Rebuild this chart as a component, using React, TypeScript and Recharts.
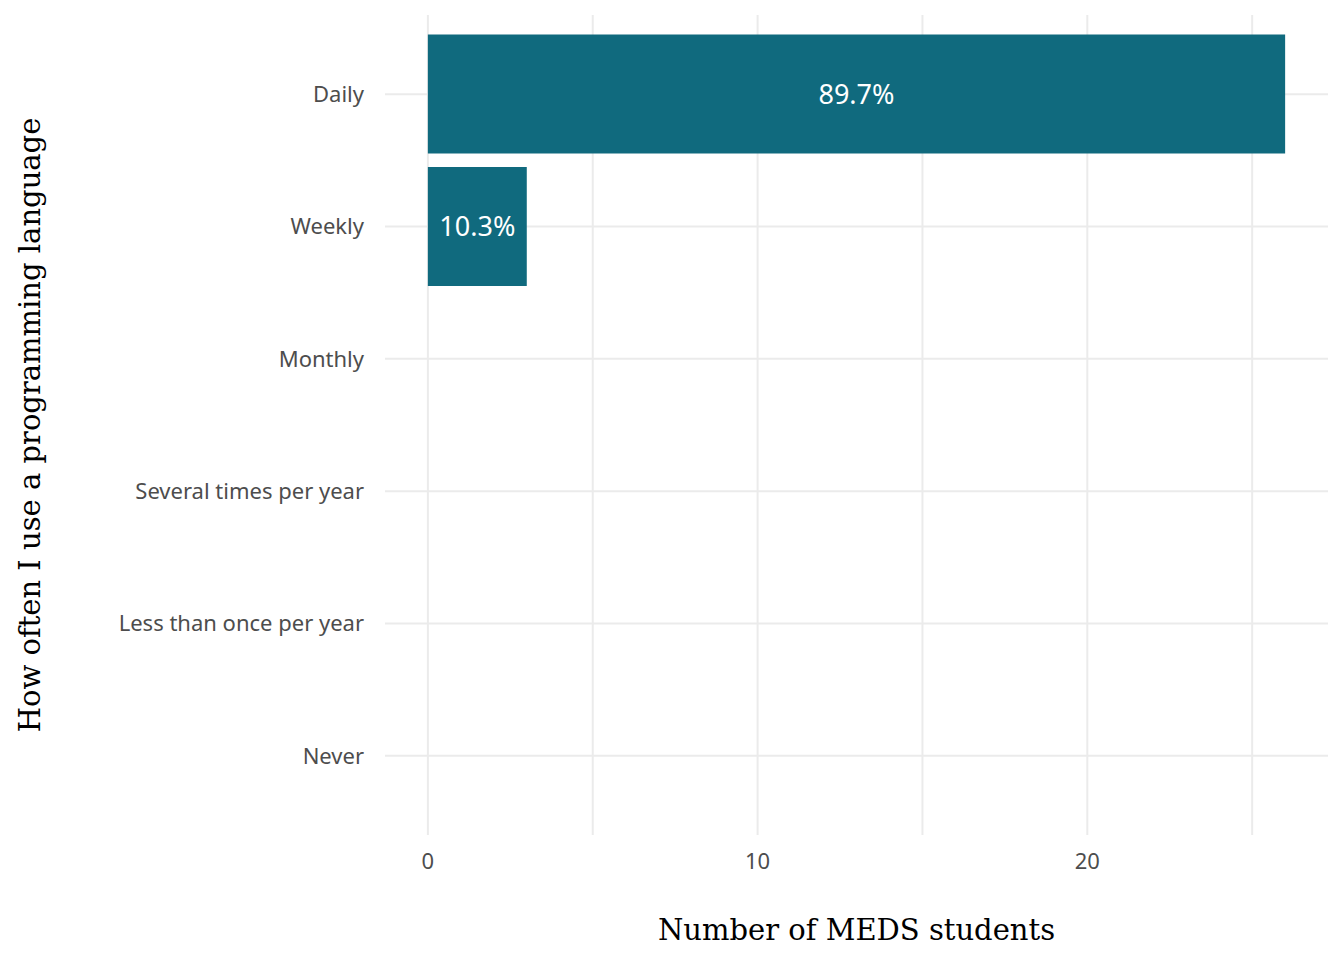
import { BarChart, Bar, XAxis, YAxis, CartesianGrid, LabelList } from "recharts"

// Survey answers, top to bottom
const categories = ["Daily", "Weekly", "Monthly", "Several times per year", "Less than once per year", "Never"]
const counts = [26, 3, 0, 0, 0, 0]
const xTicks = [0, 5, 10, 15, 20, 25]
const xTickLabels = ["0", "", "10", "", "20", ""]

const total = counts.reduce((a, b) => a + b, 0)

const data = categories.map((name, i) => ({
  name,
  value: counts[i],
  pct: `${((counts[i] / total) * 100).toFixed(1)}%`.replace(".0%", "%"),
}))

const sans = "'Noto Sans', Lato, sans-serif"
const serif = "'DejaVu Serif', serif"

const YTitle = ({ viewBox }: any) => {
  const cy = viewBox.y + viewBox.height / 2
  return (
    <text
      x={30}
      y={cy}
      transform={`rotate(-90, 30, ${cy})`}
      textAnchor="middle"
      dominantBaseline="central"
      fill="#000"
      fontSize={29}
      fontFamily={serif}
    >
      How often I use a programming language
    </text>
  )
}

export default function App() {
  return (
    <div style={{ margin: -8, width: 1344, height: 960, background: "#fff" }}>
      <BarChart
        width={1344}
        height={960}
        data={data}
        layout="vertical"
        margin={{ top: 15, right: 16, bottom: 0, left: 0 }}
        barCategoryGap="5%"
      >
        <CartesianGrid stroke="#ebebeb" strokeWidth={2} syncWithTicks />
        <XAxis
          type="number"
          domain={[-1.3, 27.3]}
          ticks={xTicks}
          interval={0}
          tickFormatter={(v: number) => xTickLabels[xTicks.indexOf(v)] ?? ""}
          axisLine={false}
          tickLine={false}
          height={125}
          tickMargin={12}
          tick={{ fill: "#4d4d4d", fontSize: 22, fontFamily: sans }}
          label={{
            value: "Number of MEDS students",
            position: "insideBottom",
            offset: 20,
            fill: "#000",
            fontSize: 29,
            fontFamily: serif,
          }}
        />
        <YAxis
          type="category"
          dataKey="name"
          width={385}
          axisLine={false}
          tickLine={false}
          tickMargin={15}
          padding={{ top: 13, bottom: 13 }}
          tick={{ fill: "#4d4d4d", fontSize: 22, fontFamily: sans }}
          label={<YTitle />}
        />
        <Bar dataKey="value" fill="#106a7e" isAnimationActive={false}>
          <LabelList
            dataKey="pct"
            position="center"
            fill="#fff"
            fontSize={27}
            fontFamily={sans}
          />
        </Bar>
      </BarChart>
    </div>
  )
}
